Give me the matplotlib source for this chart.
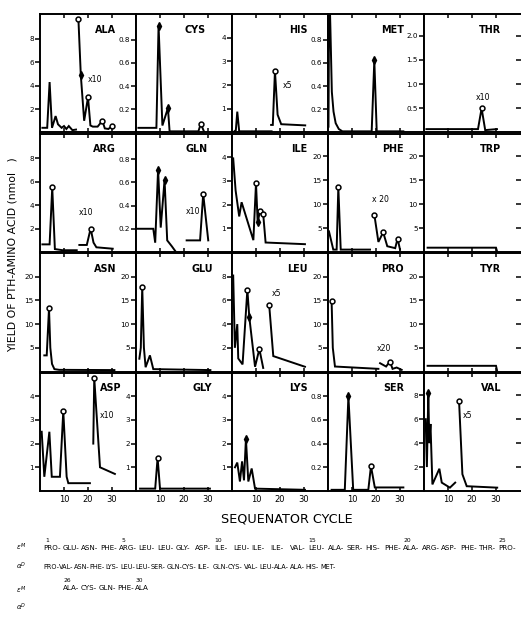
import numpy as np
import matplotlib
matplotlib.use("Agg")
import matplotlib.pyplot as plt

plt.rcParams['font.family'] = ['DejaVu Sans']

# ---- yields (nmol) against sequenator cycle ----
# "_hi" traces are the magnified tails (x5 / x10 / x20)
ala_c = [1, 3, 4, 5, 6.5, 7.5, 9, 10, 11, 12, 13.5, 15]
ala_v = [0.4, 0.4, 4.3, 0.4, 1.4, 0.7, 0.4, 0.55, 0.3, 0.55, 0.2, 0.25]
ala_hi_c = [16, 17, 18.4, 20, 21, 22, 24, 26, 27, 28.5, 30]
ala_hi_v = [9.7, 4.9, 1.0, 3.0, 0.6, 0.5, 0.5, 1.0, 0.35, 0.3, 0.55]

cys_c = [1, 8.5, 9.4, 11, 13.3, 14, 26, 27, 28.3]
cys_v = [0.04, 0.04, 0.92, 0.06, 0.21, 0.01, 0.01, 0.075, 0.01]

his_c = [1, 1.6, 2.2, 3, 16.5]
his_v = [0.05, 0.1, 0.88, 0.05, 0.05]
his_hi_c = [16.3, 17, 17.9, 19, 20.5, 30.5]
his_hi_v = [0.32, 0.32, 2.6, 0.75, 0.35, 0.3]

met_c = [0.2, 0.5, 1.0, 1.6, 2.3, 3.2, 4.5, 6, 18.2, 19.3, 20.3, 31.4]
met_v = [0.05, 1.3, 0.9, 0.35, 0.18, 0.08, 0.03, 0.01, 0.01, 0.62, 0.01, 0.01]

thr_c = [1, 22.5, 24, 25.5, 30.4]
thr_v = [0.07, 0.07, 0.5, 0.05, 0.07]

arg_c = [1, 4, 5.1, 6.2, 9.5, 15.3]
arg_v = [0.65, 0.65, 5.5, 0.25, 0.15, 0.15]
arg_hi_c = [16.4, 19.5, 21.1, 22.3, 23.5, 30.3]
arg_hi_v = [0.6, 0.6, 2.0, 0.8, 0.4, 0.28]

gln_c = [0.5, 7.2, 8.0, 9.2, 10.3, 11.9, 13, 14.9, 16.3]
gln_v = [0.2, 0.2, 0.08, 0.71, 0.21, 0.62, 0.1, 0.05, 0.01]
gln_hi_c = [21.1, 26.7, 28, 30.1]
gln_hi_v = [0.1, 0.1, 0.5, 0.1]

ile_c = [0.5, 1.5, 3.0, 4.0, 8.9, 10.0, 10.7, 11.7, 13.0, 14.0, 30.4]
ile_v = [3.95, 2.6, 1.5, 2.1, 0.5, 2.9, 1.25, 1.75, 1.6, 0.4, 0.33]

phe_c = [0.4, 2.2, 3.6, 4.3, 5.3, 17.5]
phe_v = [4.3, 0.5, 0.5, 13.5, 0.5, 0.5]
phe_hi_c = [19.3, 21, 23, 24.7, 28, 29, 30]
phe_hi_v = [7.8, 2.1, 4.1, 1.2, 0.8, 2.8, 0.5]

trp_c = [1.5, 30, 30.4]
trp_v = [0.9, 0.9, 0.2]

asn_c = [1.8, 2.8, 3.75, 4.3, 5.0, 6.0, 8, 31]
asn_v = [3.4, 3.4, 13.3, 5.0, 1.6, 0.5, 0.35, 0.3]

glu_c = [1.4, 2.0, 2.6, 3.3, 4.0, 5.8, 7.2, 31]
glu_v = [2.7, 5.0, 17.8, 5.0, 0.9, 3.4, 0.5, 0.3]

leu_c = [0.5, 1.2, 2.2, 2.6, 4.4, 6.4, 7.2, 9.6, 11.4, 13.0]
leu_v = [8.1, 2.0, 4.0, 1.1, 0.6, 6.9, 4.6, 0.4, 1.9, 0.3]
leu_hi_c = [15.5, 17.2, 30.4]
leu_hi_v = [5.6, 1.3, 0.4]

pro_c = [1.5, 2.0, 2.9, 21]
pro_v = [14.9, 5.0, 1.05, 0.56]
pro_hi_c = [21.7, 24.2, 25.8, 26.9, 28.6, 30.7]
pro_hi_v = [1.75, 1.05, 2.1, 0.56, 0.84, 0.35]

tyr_c = [1.5, 30, 30.4]
tyr_v = [1.2, 1.2, 0.3]

asp_c = [0.7, 1.8, 3.9, 4.9, 8.3, 9.7, 11.1, 11.8, 20.8]
asp_v = [2.5, 0.6, 2.5, 0.6, 0.6, 3.37, 0.6, 0.33, 0.33]
asp_hi_c = [22.2, 22.6, 25.0, 31.2]
asp_hi_v = [2.0, 4.77, 1.0, 0.72]

gly_c = [1.7, 8.0, 9.0, 10.0, 30.8]
gly_v = [0.1, 0.1, 1.4, 0.1, 0.1]

lys_c = [1.25, 2.2, 3.3, 4.2, 5.0, 5.8, 6.8, 8.2, 9.6, 30.4]
lys_v = [1.0, 1.2, 0.4, 1.25, 0.45, 2.2, 0.4, 0.95, 0.1, 0.05]

ser_c = [1.5, 7.0, 8.5, 10.5, 16.8, 17.9, 19.5, 31.4]
ser_v = [0.01, 0.01, 0.8, 0.01, 0.01, 0.21, 0.03, 0.03]

val_c = [0.7, 1.2, 1.8, 2.2, 2.7, 3.5, 6.4, 7.4, 10.8, 13.0]
val_v = [6.0, 2.0, 8.2, 4.0, 5.6, 0.55, 1.86, 0.7, 0.28, 0.7]
val_hi_c = [14.6, 16.0, 17.8, 30.5]
val_hi_v = [7.55, 1.4, 0.4, 0.28]

# sequence
seq_em = ["PRO", "GLU", "ASN", "PHE", "ARG", "LEU", "LEU", "GLY", "ASP", "ILE",
          "LEU", "ILE", "ILE", "VAL", "LEU", "ALA", "SER", "HIS", "PHE", "ALA",
          "ARG", "ASP", "PHE", "THR", "PRO"]
seq_ad = ["PRO", "VAL", "ASN", "PHE", "LYS", "LEU", "LEU", "SER", "GLN", "CYS",
          "ILE", "GLN", "CYS", "VAL", "LEU", "ALA", "ALA", "HIS", "MET"]
seq_em2 = ["ALA", "CYS", "GLN", "PHE", "ALA"]
seq_num = [1, 5, 10, 15, 20, 25]
seq_num2 = [26, 30]

S10 = (10.1, [2, 4, 6, 8], "{:g}")
S1 = (1.02, [0.2, 0.4, 0.6, 0.8], "{:.1f}")
S5 = (5.0, [1, 2, 3, 4], "{:g}")
S25 = (24.7, [5, 10, 15, 20], "{:g}")

# name, row, col, scale, traces (c, v, open circles, filled), magnifier label
panels = [
    ("ALA", 0, 0, S10, [(ala_c, ala_v, [], []), (ala_hi_c, ala_hi_v, [16, 20, 26, 30], [17])], ("x10", 20, 4.5)),
    ("CYS", 0, 1, S1, [(cys_c, cys_v, [27], [9.4, 13.3])], None),
    ("HIS", 0, 2, S5, [(his_c, his_v, [], []), (his_hi_c, his_hi_v, [17.9], [])], ("x5", 21, 2.0)),
    ("MET", 0, 3, S1, [(met_c, met_v, [], [19.3])], None),
    ("THR", 0, 4, (2.45, [0.5, 1.0, 1.5, 2.0], "{:.1f}"), [(thr_c, thr_v, [24], [])], ("x10", 21.5, 0.72)),
    ("ARG", 1, 0, S10, [(arg_c, arg_v, [5.1], []), (arg_hi_c, arg_hi_v, [21.1], [])], ("x10", 16, 3.4)),
    ("GLN", 1, 1, S1, [(gln_c, gln_v, [], [9.2, 11.9]), (gln_hi_c, gln_hi_v, [28], [])], ("x10", 20.8, 0.35)),
    ("ILE", 1, 2, S5, [(ile_c, ile_v, [10.0, 11.7, 13.0], [10.7])], None),
    ("PHE", 1, 3, S25, [(phe_c, phe_v, [4.3], []), (phe_hi_c, phe_hi_v, [19.3, 23, 29], [])], ("x 20", 18.5, 11)),
    ("TRP", 1, 4, S25, [(trp_c, trp_v, [], [])], None),
    ("ASN", 2, 0, (25.0, [5, 10, 15, 20], "{:g}"), [(asn_c, asn_v, [3.75], [])], None),
    ("GLU", 2, 1, (25.0, [5, 10, 15, 20], "{:g}"), [(glu_c, glu_v, [2.6], [])], None),
    ("LEU", 2, 2, (10.0, [2, 4, 6, 8], "{:g}"), [(leu_c, leu_v, [6.4, 11.4], [7.2]), (leu_hi_c, leu_hi_v, [15.5], [])], ("x5", 16.5, 6.6)),
    ("PRO", 2, 3, (25.0, [5, 10, 15, 20], "{:g}"), [(pro_c, pro_v, [1.5], []), (pro_hi_c, pro_hi_v, [25.8], [])], ("x20", 20.5, 4.9)),
    ("TYR", 2, 4, (25.0, [5, 10, 15, 20], "{:g}"), [(tyr_c, tyr_v, [], [])], None),
    ("ASP", 3, 0, S5, [(asp_c, asp_v, [9.7], []), (asp_hi_c, asp_hi_v, [22.6], [])], ("x10", 25, 3.2)),
    ("GLY", 3, 1, S5, [(gly_c, gly_v, [9.0], [])], None),
    ("LYS", 3, 2, S5, [(lys_c, lys_v, [], [5.8])], None),
    ("SER", 3, 3, (1.0, [0.2, 0.4, 0.6, 0.8], "{:.1f}"), [(ser_c, ser_v, [17.9], [8.5])], None),
    ("VAL", 3, 4, (9.9, [2, 4, 6, 8], "{:g}"), [(val_c, val_v, [], [1.8]), (val_hi_c, val_hi_v, [14.6], [])], ("x5", 16.2, 6.3)),
]
# names that sit off the usual spot
name_x = {"CYS": 0.73, "GLN": 0.75, "ASP": 0.845, "ASN": 0.80, "GLU": 0.80}

W, H = 521.0, 626.0
fig = plt.figure(figsize=(W / 100, H / 100), dpi=100)

col_left = [40, 136, 232, 328, 424]
col_w = [96, 96, 96, 96, 98]
row_top = [14, 133.5, 253, 372.5]
ph = 118.5
px_per_cycle = 2.4

for name, r, c, scale, traces, mag in panels:
    ymax, ticks, fmt = scale
    ax = fig.add_axes([col_left[c] / W, 1 - (row_top[r] + ph) / H, col_w[c] / W, ph / H])
    for cyc, val, opn, fil in traces:
        ax.plot(cyc, val, color='k', lw=1.4, solid_joinstyle='miter')
        if opn:
            ax.plot(opn, np.interp(opn, cyc, val), 'o', ms=3.5, mfc='white', mec='k', mew=1.1)
        if fil:
            ax.plot(fil, np.interp(fil, cyc, val), 'd', ms=3.8, color='k')
    ax.set_xlim(0, col_w[c] / px_per_cycle)
    ax.set_ylim(0, ymax)
    ax.set_yticks(ticks)
    ax.set_yticklabels([fmt.format(t) for t in ticks])
    ax.set_xticks([10, 20, 30])
    ax.tick_params(axis='y', direction='out', length=3.5, width=1.1, labelsize=5.2, pad=1)
    ax.tick_params(axis='x', direction='in', top=True, length=3, width=1.1,
                   labelsize=6, pad=3, labelbottom=(r == 3))
    for sp in ax.spines.values():
        sp.set_linewidth(1.4)
    if c == 4:
        sec = ax.secondary_yaxis('right')
        sec.set_yticks(ticks)
        sec.tick_params(direction='in', length=4.5, width=1.1, labelright=False)
        sec.spines['right'].set_linewidth(1.4)
    ax.text(name_x.get(name, 0.79), 0.865, name, transform=ax.transAxes, ha='right',
            va='center', fontsize=6.9, fontweight='bold')
    if mag:
        ax.text(mag[1], mag[2], mag[0], fontsize=5.6, ha='left', va='center')

fig.text(13 / W, 1 - 255 / H, "YIELD OF PTH-AMINO ACID (nmol   )", rotation=90,
         ha='center', va='center', fontsize=7.8)
fig.text(287 / W, 1 - 519 / H, "SEQUENATOR CYCLE", ha='center', va='center', fontsize=9.2)


# sequence lines under the panels
def seq_row(names, x0, step, y, size, last_dash=True):
    for i, nm in enumerate(names):
        s = nm + ("-" if (i < len(names) - 1 or last_dash) else "")
        fig.text((x0 + i * step) / W, 1 - y / H, s, ha='left', va='center', fontsize=size)


step1 = 18.95
seq_row(seq_em, 43.3, step1, 548, 5.1)
for n in seq_num:
    fig.text((43.3 + (n - 1) * step1 + 4) / W, 1 - 540 / H, str(n), ha='center',
             va='center', fontsize=4.3)
seq_row(seq_ad, 43.3, 15.4, 567, 4.7)
seq_row(seq_em2, 63, 18.0, 588, 5.1, last_dash=False)
for n in seq_num2:
    fig.text((63 + (n - 26) * 18.0 + 4) / W, 1 - 581 / H, str(n), ha='center',
             va='center', fontsize=4.3)
for lab, y in [(r"$\epsilon^{M}$", 547), (r"$\alpha^{D}$", 566),
               (r"$\epsilon^{M}$", 590), (r"$\alpha^{D}$", 607)]:
    fig.text(21 / W, 1 - y / H, lab, ha='center', va='center', fontsize=5)

fig.savefig("out.png", dpi=100)
